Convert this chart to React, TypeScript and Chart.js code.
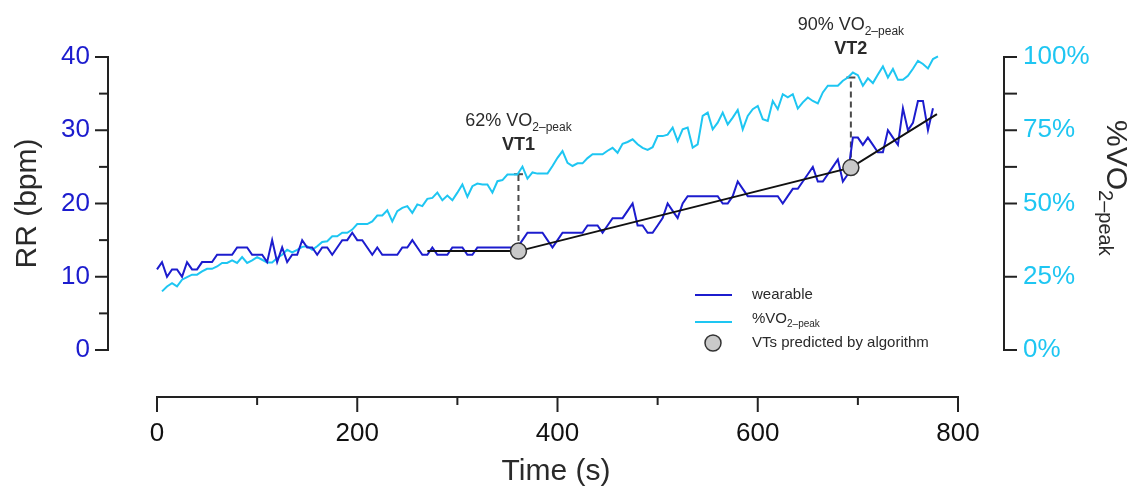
import React, { useEffect, useRef } from 'react';
import { Chart, registerables } from 'chart.js';

Chart.register(...registerables);

const FONT = "'Liberation Sans', Arial, Helvetica, sans-serif";
const BLUE = '#1c1cce';
const CYAN = '#1ec6f2';
const TEXT = '#2a2a2a';

// time (s), sampled every 5 s
const time = [
  0, 5, 10, 15, 20, 25, 30, 35, 40, 45, 50, 55, 60, 65, 70, 75, 80, 85, 90, 95,
  100, 105, 110, 115, 120, 125, 130, 135, 140, 145, 150, 155, 160, 165, 170, 175, 180, 185, 190, 195,
  200, 205, 210, 215, 220, 225, 230, 235, 240, 245, 250, 255, 260, 265, 270, 275, 280, 285, 290, 295,
  300, 305, 310, 315, 320, 325, 330, 335, 340, 345, 350, 355, 360, 365, 370, 375, 380, 385, 390, 395,
  400, 405, 410, 415, 420, 425, 430, 435, 440, 445, 450, 455, 460, 465, 470, 475, 480, 485, 490, 495,
  500, 505, 510, 515, 520, 525, 530, 535, 540, 545, 550, 555, 560, 565, 570, 575, 580, 585, 590, 595,
  600, 605, 610, 615, 620, 625, 630, 635, 640, 645, 650, 655, 660, 665, 670, 675, 680, 685, 690, 695,
  700, 705, 710, 715, 720, 725, 730, 735, 740, 745, 750, 755, 760, 765, 770, 775, 780,
];

// respiratory rate from the wearable (bpm)
const wearableRR: (number | null)[] = [
  11, 12, 10, 11, 11, 10, 12, 11, 11, 12, 12, 12, 13, 13, 13, 13, 14, 14, 14, 13,
  13, 13, 12, 15, 12, 14, 12, 13, 13, 15, 14, 14, 13, 14, 14, 13, 14, 15, 15, 16,
  15, 15, 14, 13, 14, 13, 13, 13, 13, 14, 14, 15, 14, 13, 13, 14, 13, 13, 13, 14,
  14, 14, 13, 13, 14, 14, 14, 14, 14, 14, 14, 14, 14, 15, 16, 16, 16, 16, 15, 14,
  15, 16, 16, 16, 16, 16, 17, 17, 17, 16, 17, 18, 18, 18, 19, 20, 17, 17, 16, 16,
  17, 18, 20, 19, 18, 20, 21, 21, 21, 21, 21, 21, 21, 20, 20, 21, 23, 22, 21, 21,
  21, 21, 21, 21, 21, 20, 21, 22, 22, 23, 24, 25, 23, 23, 24, 25, 26, 23, 24, 29,
  29, 28, 29, 28, 27, 27, 30, 29, 28, 33, 30, 31, 34, 34, 30, 33, null,
];

// %VO2-peak
const vo2Percent: (number | null)[] = [
  null,
  20, 21.7, 22.8, 21.7, 24, 24.9, 25.7, 25.7, 26.8, 27.7, 27.7, 28.5, 29.7, 29.7, 30.6, 29.7, 31.7, 29.7, 30.6, 31.7,
  30.8, 29.9, 29.9, 31.4, 32.5, 34.2, 33.3, 34.2, 35.2, 35.4, 34.2, 35.4, 36.9, 37.1, 38.8, 38.8, 40, 40, 41.1, 43,
  43, 43, 43.9, 45.9, 45.9, 47.7, 43.9, 47.4, 48.5, 49.1, 46.8, 49.7, 49.1, 51.6, 51.9, 53.7, 51.1, 52.7, 51.1, 53.7,
  56.5, 52.3, 55.9, 56.8, 56.5, 56.5, 53.7, 57.6, 58, 59.9, 59.9, 59.9, 62.6, 58.5, 60.6, 60.2, 60.2, 60.2, 62.8, 65.6,
  67.9, 63.9, 62.8, 63.7, 63.7, 65.5, 66.8, 66.8, 66.8, 68, 69, 67.3, 70.4, 71, 71.9, 70.2, 69, 68.3, 69.2, 73,
  73, 73.5, 75.9, 71.3, 75.3, 75.9, 69.1, 70.2, 79.9, 81, 75.3, 77.6, 81, 77, 79.3, 81.9, 75.3, 79.9, 82.2, 83.3,
  78.8, 78.2, 85, 82.2, 87.3, 86.2, 87.3, 82.4, 84.5, 86.2, 85, 84.2, 87.9, 90.2, 90.2, 90.2, 91.9, 93, 94.7, 93.8,
  90.2, 92.7, 91.1, 94, 96.8, 93, 95.9, 92.2, 92.2, 93.6, 96, 98.7, 97.6, 96.1, 99.3, 100.2,
];

// ventilatory thresholds predicted by the algorithm
const vtTime = [361, 693];
const vtRR = [13.5, 24.9];
const vtVO2 = [60, 93];
const vtPctLabels = ['62%', '90%'];
const vtNames = ['VT1', 'VT2'];

// piecewise fit of the algorithm
const fitTime = [270, 361, 693, 779];
const fitRR = [13.5, 13.5, 24.9, 32.2];

// axis ticks
const xTicks = [0, 100, 200, 300, 400, 500, 600, 700, 800];
const xLabelTicks = [0, 200, 400, 600, 800];
const rrTicks = [0, 5, 10, 15, 20, 25, 30, 35, 40];
const pctTicks = [0, 25, 50, 62.5, 75, 87.5, 100];

function drawSub(ctx: CanvasRenderingContext2D, x: number, y: number, main: string, sub: string,
  size: number, subSize: number, subDrop: number, align: 'left' | 'center') {
  ctx.font = `${size}px ${FONT}`;
  const wm = ctx.measureText(main).width;
  ctx.font = `${subSize}px ${FONT}`;
  const ws = ctx.measureText(sub).width;
  const start = align === 'center' ? x - (wm + ws) / 2 : x;
  ctx.textAlign = 'left';
  ctx.textBaseline = 'alphabetic';
  ctx.font = `${size}px ${FONT}`;
  ctx.fillText(main, start, y);
  ctx.font = `${subSize}px ${FONT}`;
  ctx.fillText(sub, start + wm, y + subDrop);
}

const overlay = {
  id: 'overlay',
  beforeDatasetsDraw(chart: any) {
    const { ctx, scales } = chart;
    const { x, y, y1 } = scales;
    ctx.save();
    ctx.strokeStyle = '#4a4a4a';
    ctx.lineWidth = 2;
    vtTime.forEach((t, i) => {
      const px = x.getPixelForValue(t);
      const yTop = y1.getPixelForValue(vtVO2[i]);
      const yBot = y.getPixelForValue(vtRR[i]);
      ctx.setLineDash([6, 4]);
      ctx.beginPath();
      ctx.moveTo(px, yBot);
      ctx.lineTo(px, yTop);
      ctx.stroke();
      ctx.setLineDash([]);
      ctx.beginPath();
      ctx.moveTo(px - 4.5, yTop);
      ctx.lineTo(px + 4.5, yTop);
      ctx.stroke();
    });
    ctx.restore();
  },
  afterDraw(chart: any) {
    const { ctx, scales } = chart;
    const { x, y, y1 } = scales;
    ctx.save();
    ctx.strokeStyle = '#222';
    ctx.lineWidth = 2;
    ctx.lineCap = 'square';

    // left axis
    const lx = y.left + y.width;
    ctx.beginPath();
    ctx.moveTo(lx, y.getPixelForValue(0));
    ctx.lineTo(lx, y.getPixelForValue(40));
    ctx.stroke();
    rrTicks.forEach((v) => {
      const py = y.getPixelForValue(v);
      const len = v % 10 === 0 ? 12 : 8;
      ctx.beginPath();
      ctx.moveTo(lx, py);
      ctx.lineTo(lx - len, py);
      ctx.stroke();
    });

    // right axis
    const rx = y1.left;
    ctx.beginPath();
    ctx.moveTo(rx, y1.getPixelForValue(0));
    ctx.lineTo(rx, y1.getPixelForValue(100));
    ctx.stroke();
    pctTicks.forEach((v) => {
      const py = y1.getPixelForValue(v);
      ctx.beginPath();
      ctx.moveTo(rx, py);
      ctx.lineTo(rx + 12, py);
      ctx.stroke();
    });

    // bottom axis
    const by = x.top;
    ctx.beginPath();
    ctx.moveTo(x.getPixelForValue(0), by);
    ctx.lineTo(x.getPixelForValue(800), by);
    ctx.stroke();
    xTicks.forEach((v) => {
      const px = x.getPixelForValue(v);
      const len = v % 200 === 0 ? 14 : 7;
      ctx.beginPath();
      ctx.moveTo(px, by);
      ctx.lineTo(px, by + len);
      ctx.stroke();
    });

    // left title
    ctx.fillStyle = TEXT;
    ctx.save();
    ctx.translate(28, (y.getPixelForValue(0) + y.getPixelForValue(40)) / 2);
    ctx.rotate(-Math.PI / 2);
    ctx.textAlign = 'center';
    ctx.textBaseline = 'middle';
    ctx.font = `30px ${FONT}`;
    ctx.fillText('RR (bpm)', 0, 0);
    ctx.restore();

    // right title
    ctx.save();
    ctx.translate(1107, 120);
    ctx.rotate(Math.PI / 2);
    drawSub(ctx, 0, 0, '%VO', '2–peak', 30, 20, 8, 'left');
    ctx.restore();

    // VT annotations
    vtTime.forEach((t, i) => {
      const cx = x.getPixelForValue(t);
      const cap = y1.getPixelForValue(vtVO2[i]);
      ctx.fillStyle = TEXT;
      drawSub(ctx, cx, cap - 48, `${vtPctLabels[i]} VO`, '2–peak', 18, 12, 5, 'center');
      ctx.font = `bold 18px ${FONT}`;
      ctx.textAlign = 'center';
      ctx.textBaseline = 'alphabetic';
      ctx.fillText(vtNames[i], cx, cap - 24);
    });

    // legend
    ctx.lineWidth = 2;
    ctx.lineCap = 'butt';
    ctx.strokeStyle = BLUE;
    ctx.beginPath(); ctx.moveTo(695, 295); ctx.lineTo(732, 295); ctx.stroke();
    ctx.strokeStyle = CYAN;
    ctx.beginPath(); ctx.moveTo(695, 322); ctx.lineTo(732, 322); ctx.stroke();
    ctx.fillStyle = '#c9c9c9';
    ctx.strokeStyle = '#333';
    ctx.lineWidth = 1.5;
    ctx.beginPath(); ctx.arc(713, 343, 8, 0, Math.PI * 2); ctx.fill(); ctx.stroke();
    ctx.fillStyle = TEXT;
    ctx.font = `15px ${FONT}`;
    ctx.textAlign = 'left';
    ctx.textBaseline = 'middle';
    ctx.fillText('wearable', 752, 295);
    ctx.fillText('VTs predicted by algorithm', 752, 343);
    drawSub(ctx, 752, 323, '%VO', '2–peak', 15, 10, 4, 'left');

    ctx.restore();
  },
};

export default function App() {
  const canvasRef = useRef<HTMLCanvasElement | null>(null);

  useEffect(() => {
    const canvas = canvasRef.current;
    if (!canvas) return;
    const chart = new Chart(canvas, {
      type: 'line',
      data: {
        datasets: [
          {
            label: 'VTs predicted by algorithm',
            data: vtTime.map((t, i) => ({ x: t, y: vtRR[i] })),
            yAxisID: 'y',
            showLine: false,
            pointRadius: 8,
            pointBackgroundColor: '#c9c9c9',
            pointBorderColor: '#333',
            pointBorderWidth: 1.5,
            order: 0,
            clip: false,
          },
          {
            label: 'fit',
            data: fitTime.map((t, i) => ({ x: t, y: fitRR[i] })),
            yAxisID: 'y',
            borderColor: '#111',
            borderWidth: 2,
            pointRadius: 0,
            tension: 0,
            order: 1,
            clip: false,
          },
          {
            label: 'wearable',
            data: time.map((t, i) => ({ x: t, y: wearableRR[i] })),
            yAxisID: 'y',
            borderColor: BLUE,
            borderWidth: 2,
            pointRadius: 0,
            tension: 0,
            order: 2,
            clip: false,
          },
          {
            label: '%VO2-peak',
            data: time.map((t, i) => ({ x: t, y: vo2Percent[i] })),
            yAxisID: 'y1',
            borderColor: CYAN,
            borderWidth: 2,
            pointRadius: 0,
            tension: 0,
            order: 3,
            clip: false,
          },
        ] as any,
      },
      options: {
        responsive: false,
        maintainAspectRatio: false,
        devicePixelRatio: 1,
        animation: false,
        events: [],
        layout: { padding: { top: 57, left: 0, right: 0, bottom: 0 } },
        plugins: { legend: { display: false }, tooltip: { enabled: false } },
        scales: {
          x: {
            type: 'linear',
            position: 'bottom',
            min: -48.94,
            max: 845.94,
            bounds: 'data',
            afterBuildTicks: (s: any) => { s.ticks = xTicks.map((v) => ({ value: v })); },
            afterFit: (s: any) => { s.height = 95; },
            grid: { display: false },
            border: { display: false },
            ticks: {
              autoSkip: false,
              maxRotation: 0,
              padding: 13,
              color: '#111',
              font: { family: FONT, size: 26 },
              callback: (v: any) => (xLabelTicks.includes(Number(v)) ? String(v) : ''),
            },
            title: {
              display: true,
              text: 'Time (s)',
              color: TEXT,
              font: { family: FONT, size: 30 },
              padding: { top: 0, bottom: 2 },
            },
          },
          y: {
            type: 'linear',
            position: 'left',
            min: -6.416,
            max: 40,
            bounds: 'data',
            afterBuildTicks: (s: any) => { s.ticks = rrTicks.map((v) => ({ value: v })); },
            afterFit: (s: any) => { s.width = 108; },
            grid: { display: false },
            border: { display: false },
            ticks: {
              autoSkip: false,
              padding: 10,
              color: BLUE,
              font: { family: FONT, size: 26 },
              callback: (v: any) => (Number(v) % 10 === 0 ? String(v) : ''),
            },
          },
          y1: {
            type: 'linear',
            position: 'right',
            min: -16.04,
            max: 100,
            bounds: 'data',
            afterBuildTicks: (s: any) => { s.ticks = pctTicks.map((v) => ({ value: v })); },
            afterFit: (s: any) => { s.width = 127; },
            grid: { display: false },
            border: { display: false },
            ticks: {
              autoSkip: false,
              padding: 11,
              color: CYAN,
              font: { family: FONT, size: 26 },
              callback: (v: any) => (Number(v) % 25 === 0 ? `${v}%` : ''),
            },
          },
        },
      } as any,
      plugins: [overlay],
    });
    return () => chart.destroy();
  }, []);

  return (
    <div style={{ position: 'fixed', left: 0, top: 0, width: 1131, height: 492, background: '#fff' }}>
      <canvas ref={canvasRef} width={1131} height={492} style={{ display: 'block', width: 1131, height: 492 }} />
    </div>
  );
}
